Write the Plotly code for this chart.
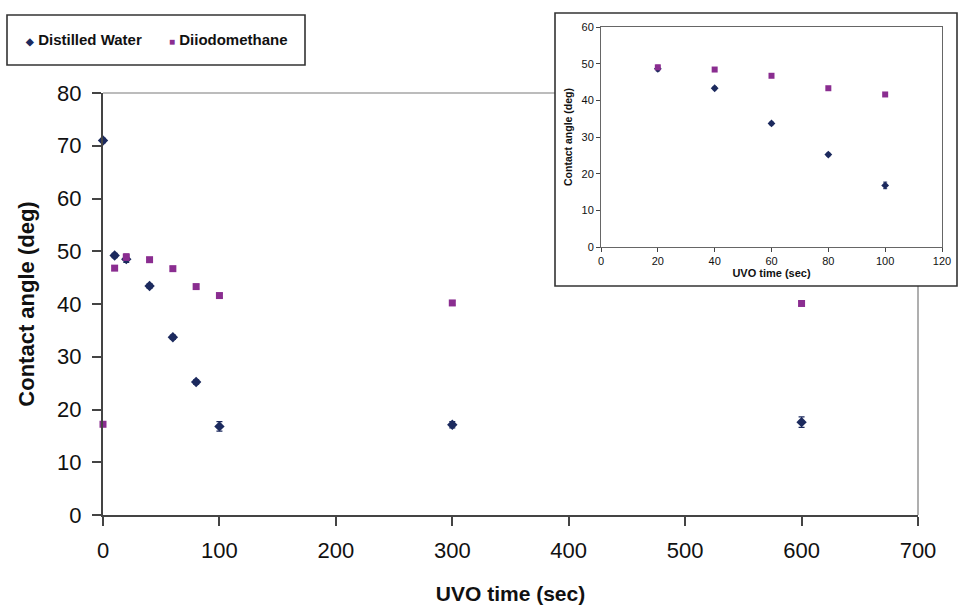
import plotly.graph_objects as go

# ---- data ----
time_main = [0, 10, 20, 40, 60, 80, 100, 300, 600]
water_main = [71.0, 49.2, 48.5, 43.4, 33.7, 25.2, 16.8, 17.1, 17.6]
water_err = [0.4, 0.4, 0.6, 0.4, 0.4, 0.4, 0.9, 0.6, 1.0]
diiodo_main = [17.2, 46.8, 48.9, 48.4, 46.7, 43.3, 41.6, 40.2, 40.1]
diiodo_err = [0.3, 0.4, 0.6, 0.4, 0.4, 0.4, 0.4, 0.4, 0.4]

time_inset = [20, 40, 60, 80, 100]
water_inset = [48.6, 43.3, 33.7, 25.2, 16.8]
water_inset_err = [0.6, 0.4, 0.4, 0.4, 0.9]
diiodo_inset = [49.0, 48.4, 46.7, 43.3, 41.6]
diiodo_inset_err = [0.6, 0.4, 0.4, 0.4, 0.4]

series_names = ["Distilled Water", "Diiodomethane"]
x_ticks_main = [0, 100, 200, 300, 400, 500, 600, 700]
y_ticks_main = [0, 10, 20, 30, 40, 50, 60, 70, 80]
x_ticks_inset = [0, 20, 40, 60, 80, 100, 120]
y_ticks_inset = [0, 10, 20, 30, 40, 50, 60]

WATER = "#1c2a5e"
DIIODO = "#8a2d90"
FONT = "Liberation Sans, Arial, sans-serif"

W, H = 959, 610
def px_x(p): return p / W
def px_y(p): return 1 - p / H

fig = go.Figure()

fig.add_trace(go.Scatter(
    x=time_main, y=water_main, mode="markers", name=series_names[0],
    marker=dict(symbol="diamond", size=8, color=WATER),
    error_y=dict(type="data", array=water_err, color=WATER, thickness=1.2, width=3),
    cliponaxis=False, xaxis="x", yaxis="y", showlegend=False))
fig.add_trace(go.Scatter(
    x=time_main, y=diiodo_main, mode="markers", name=series_names[1],
    marker=dict(symbol="square", size=7, color=DIIODO),
    error_y=dict(type="data", array=diiodo_err, color=DIIODO, thickness=1.2, width=3),
    cliponaxis=False, xaxis="x", yaxis="y", showlegend=False))

fig.add_trace(go.Scatter(
    x=time_inset, y=water_inset, mode="markers", showlegend=False,
    marker=dict(symbol="diamond", size=6, color=WATER),
    error_y=dict(type="data", array=water_inset_err, color=WATER, thickness=1, width=2),
    xaxis="x2", yaxis="y2"))
fig.add_trace(go.Scatter(
    x=time_inset, y=diiodo_inset, mode="markers", showlegend=False,
    marker=dict(symbol="square", size=6, color=DIIODO),
    error_y=dict(type="data", array=diiodo_inset_err, color=DIIODO, thickness=1, width=2),
    xaxis="x2", yaxis="y2"))

shapes = [
    # main plot frame (top and right, gray)
    dict(type="line", xref="x domain", yref="y domain", x0=0, x1=1, y0=1, y1=1,
         line=dict(color="#7a7a7a", width=1.2), layer="below"),
    dict(type="line", xref="x domain", yref="y domain", x0=1, x1=1, y0=0, y1=1,
         line=dict(color="#7a7a7a", width=1.2), layer="below"),
    # inset box
    dict(type="rect", xref="paper", yref="paper",
         x0=px_x(555), x1=px_x(957), y0=px_y(286), y1=px_y(13),
         fillcolor="white", line=dict(color="#333333", width=1.6), layer="below"),
    # legend box
    dict(type="rect", xref="paper", yref="paper",
         x0=px_x(7), x1=px_x(305), y0=px_y(65), y1=px_y(15),
         fillcolor="white", line=dict(color="#333333", width=1.6), layer="below"),
]

legend_items = [
    (series_names[0], "◆", WATER, 23),
    (series_names[1], "■", DIIODO, 167),
]
annotations = []
for name, glyph, color, xpx in legend_items:
    annotations.append(dict(
        xref="paper", yref="paper", x=px_x(xpx), y=px_y(40),
        xanchor="left", yanchor="middle", showarrow=False,
        text=f"<span style='color:{color};font-size:10px'>{glyph}</span> {name}",
        font=dict(family=FONT, size=15, color="#111111", weight="bold"),
    ))

axis_common = dict(showgrid=False, zeroline=False, showline=True, automargin=False)

fig.update_layout(
    width=W, height=H,
    margin=dict(l=0, r=0, t=0, b=0),
    paper_bgcolor="white", plot_bgcolor="rgba(0,0,0,0)",
    font=dict(family=FONT, color="#111111"),
    shapes=shapes,
    annotations=annotations,
    showlegend=False,
    xaxis=dict(
        **axis_common,
        domain=[px_x(103), px_x(918)], range=[0, 700], tickvals=x_ticks_main,
        linecolor="#444444", linewidth=2,
        ticks="outside", ticklen=9, tickwidth=1.5, tickcolor="#444444",
        tickfont=dict(size=22, family=FONT, color="#111111"), ticklabelstandoff=6,
        title=dict(text="UVO time (sec)", font=dict(size=21, weight="bold", family=FONT), standoff=24),
        anchor="y",
    ),
    yaxis=dict(
        **axis_common,
        domain=[px_y(515), px_y(93)], range=[0, 80], tickvals=y_ticks_main,
        linecolor="#444444", linewidth=2,
        ticks="outside", ticklen=9, tickwidth=1.5, tickcolor="#444444",
        tickfont=dict(size=22, family=FONT, color="#111111"), ticklabelstandoff=6,
        title=dict(text="Contact angle (deg)", font=dict(size=22, weight="bold", family=FONT), standoff=16),
        anchor="x",
    ),
    xaxis2=dict(
        **axis_common,
        domain=[px_x(601), px_x(942)], range=[0, 120], tickvals=x_ticks_inset,
        linecolor="#666666", linewidth=1, mirror=True,
        ticks="outside", ticklen=4, tickwidth=1, tickcolor="#444444",
        tickfont=dict(size=11, family=FONT, color="#111111"),
        title=dict(text="UVO time (sec)", font=dict(size=11, weight="bold", family=FONT), standoff=0),
        anchor="y2",
    ),
    yaxis2=dict(
        **axis_common,
        domain=[px_y(247), px_y(27)], range=[0, 60], tickvals=y_ticks_inset,
        linecolor="#666666", linewidth=1, mirror=True,
        ticks="outside", ticklen=4, tickwidth=1, tickcolor="#444444",
        tickfont=dict(size=11, family=FONT, color="#111111"),
        title=dict(text="Contact angle (deg)", font=dict(size=10.5, weight="bold", family=FONT), standoff=6),
        anchor="x2",
    ),
)

fig.write_html("out.html")
